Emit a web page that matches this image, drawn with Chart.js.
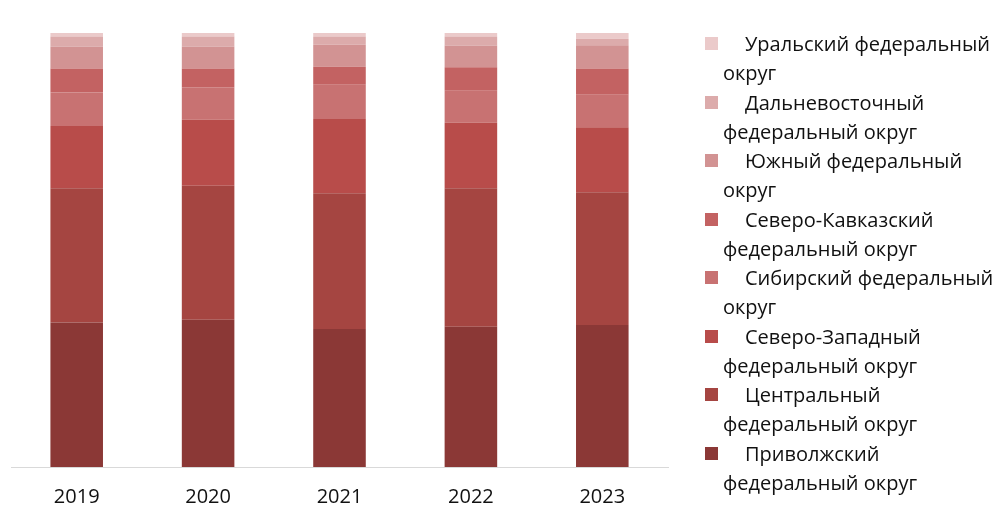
<!DOCTYPE html>
<html>
<head>
<meta charset="utf-8">
<script src="https://cdn.jsdelivr.net/npm/chart.js@4"></script>
<style>
  body { margin: 0; background: #fff; }
  #wrap { position: relative; width: 1000px; height: 514px; }
  #legend { position: absolute; left: 0; top: 0; font-family: "Open Sans", sans-serif; font-size: 20px; color: #111; }
  .item { position: absolute; left: 723px; line-height: 29px; white-space: pre; text-indent: 22px; }
  .box { position: absolute; left: -18px; top: 8px; width: 13px; height: 13px; }
</style>
</head>
<body>
<div id="wrap">
  <canvas id="myChart" width="1000" height="514"></canvas>
  <div id="legend"></div>
</div>
<script>
// data (shares in %)
const years = ["2019", "2020", "2021", "2022", "2023"];

const regions = [
  "Приволжский федеральный округ",
  "Центральный федеральный округ",
  "Северо-Западный федеральный округ",
  "Сибирский федеральный округ",
  "Северо-Кавказский федеральный округ",
  "Южный федеральный округ",
  "Дальневосточный федеральный округ",
  "Уральский федеральный округ"
];

// where the legend text wraps (words on the first line)
const firstLineWords = [1, 1, 1, 2, 1, 2, 1, 2];

const privolzhsky = [33.3, 33.9, 31.8, 32.3, 32.7];
const central = [30.9, 30.9, 31.3, 31.9, 30.6];
const severoZapad = [14.4, 15.2, 17.1, 15.1, 15.0];
const sibir = [7.7, 7.5, 7.9, 7.4, 7.5];
const severoKavkaz = [5.5, 4.3, 4.1, 5.4, 6.0];
const yuzhny = [5.1, 5.1, 5.1, 5.0, 5.4];
const dalnevostok = [2.3, 2.3, 1.9, 2.1, 1.5];
const uralsky = [0.8, 0.8, 0.8, 0.8, 1.3];

const colors = ["#8b3836", "#a54541", "#b84c4a", "#c87272", "#c36262", "#d29393", "#dcabab", "#ebcaca"];

const values = [privolzhsky, central, severoZapad, sibir, severoKavkaz, yuzhny, dalnevostok, uralsky];

const datasets = regions.map((name, i) => ({
  label: name,
  data: values[i],
  backgroundColor: colors[i],
  borderWidth: 0,
  categoryPercentage: 1,
  barPercentage: 0.4
}));

const ctx = document.getElementById("myChart").getContext("2d");
const myChart = new Chart(ctx, {
  type: "bar",
  data: { labels: years, datasets: datasets },
  options: {
    responsive: false,
    animation: false,
    layout: { padding: { left: 11, right: 332, top: 33, bottom: 0 } },
    plugins: { legend: { display: false }, tooltip: { enabled: false } },
    scales: {
      x: {
        stacked: true,
        grid: { display: false, drawTicks: false },
        border: { color: "#d9d9d9", width: 1 },
        ticks: { color: "#111", padding: 18, font: { family: "Open Sans", size: 20 } },
        afterFit: (scale) => { scale.height = 47; }
      },
      y: {
        stacked: true,
        display: false,
        min: 0,
        max: 100
      }
    }
  }
});

// legend, top item = last dataset
const legend = document.getElementById("legend");
for (let k = 0; k < regions.length; k++) {
  const i = regions.length - 1 - k;
  const words = regions[i].split(" ");
  const n = firstLineWords[i];
  const item = document.createElement("div");
  item.className = "item";
  item.style.top = (29 + k * 58.5) + "px";
  item.textContent = words.slice(0, n).join(" ") + "\n" + words.slice(n).join(" ");
  const box = document.createElement("span");
  box.className = "box";
  box.style.background = colors[i];
  item.appendChild(box);
  legend.appendChild(item);
}
</script>
</body>
</html>
